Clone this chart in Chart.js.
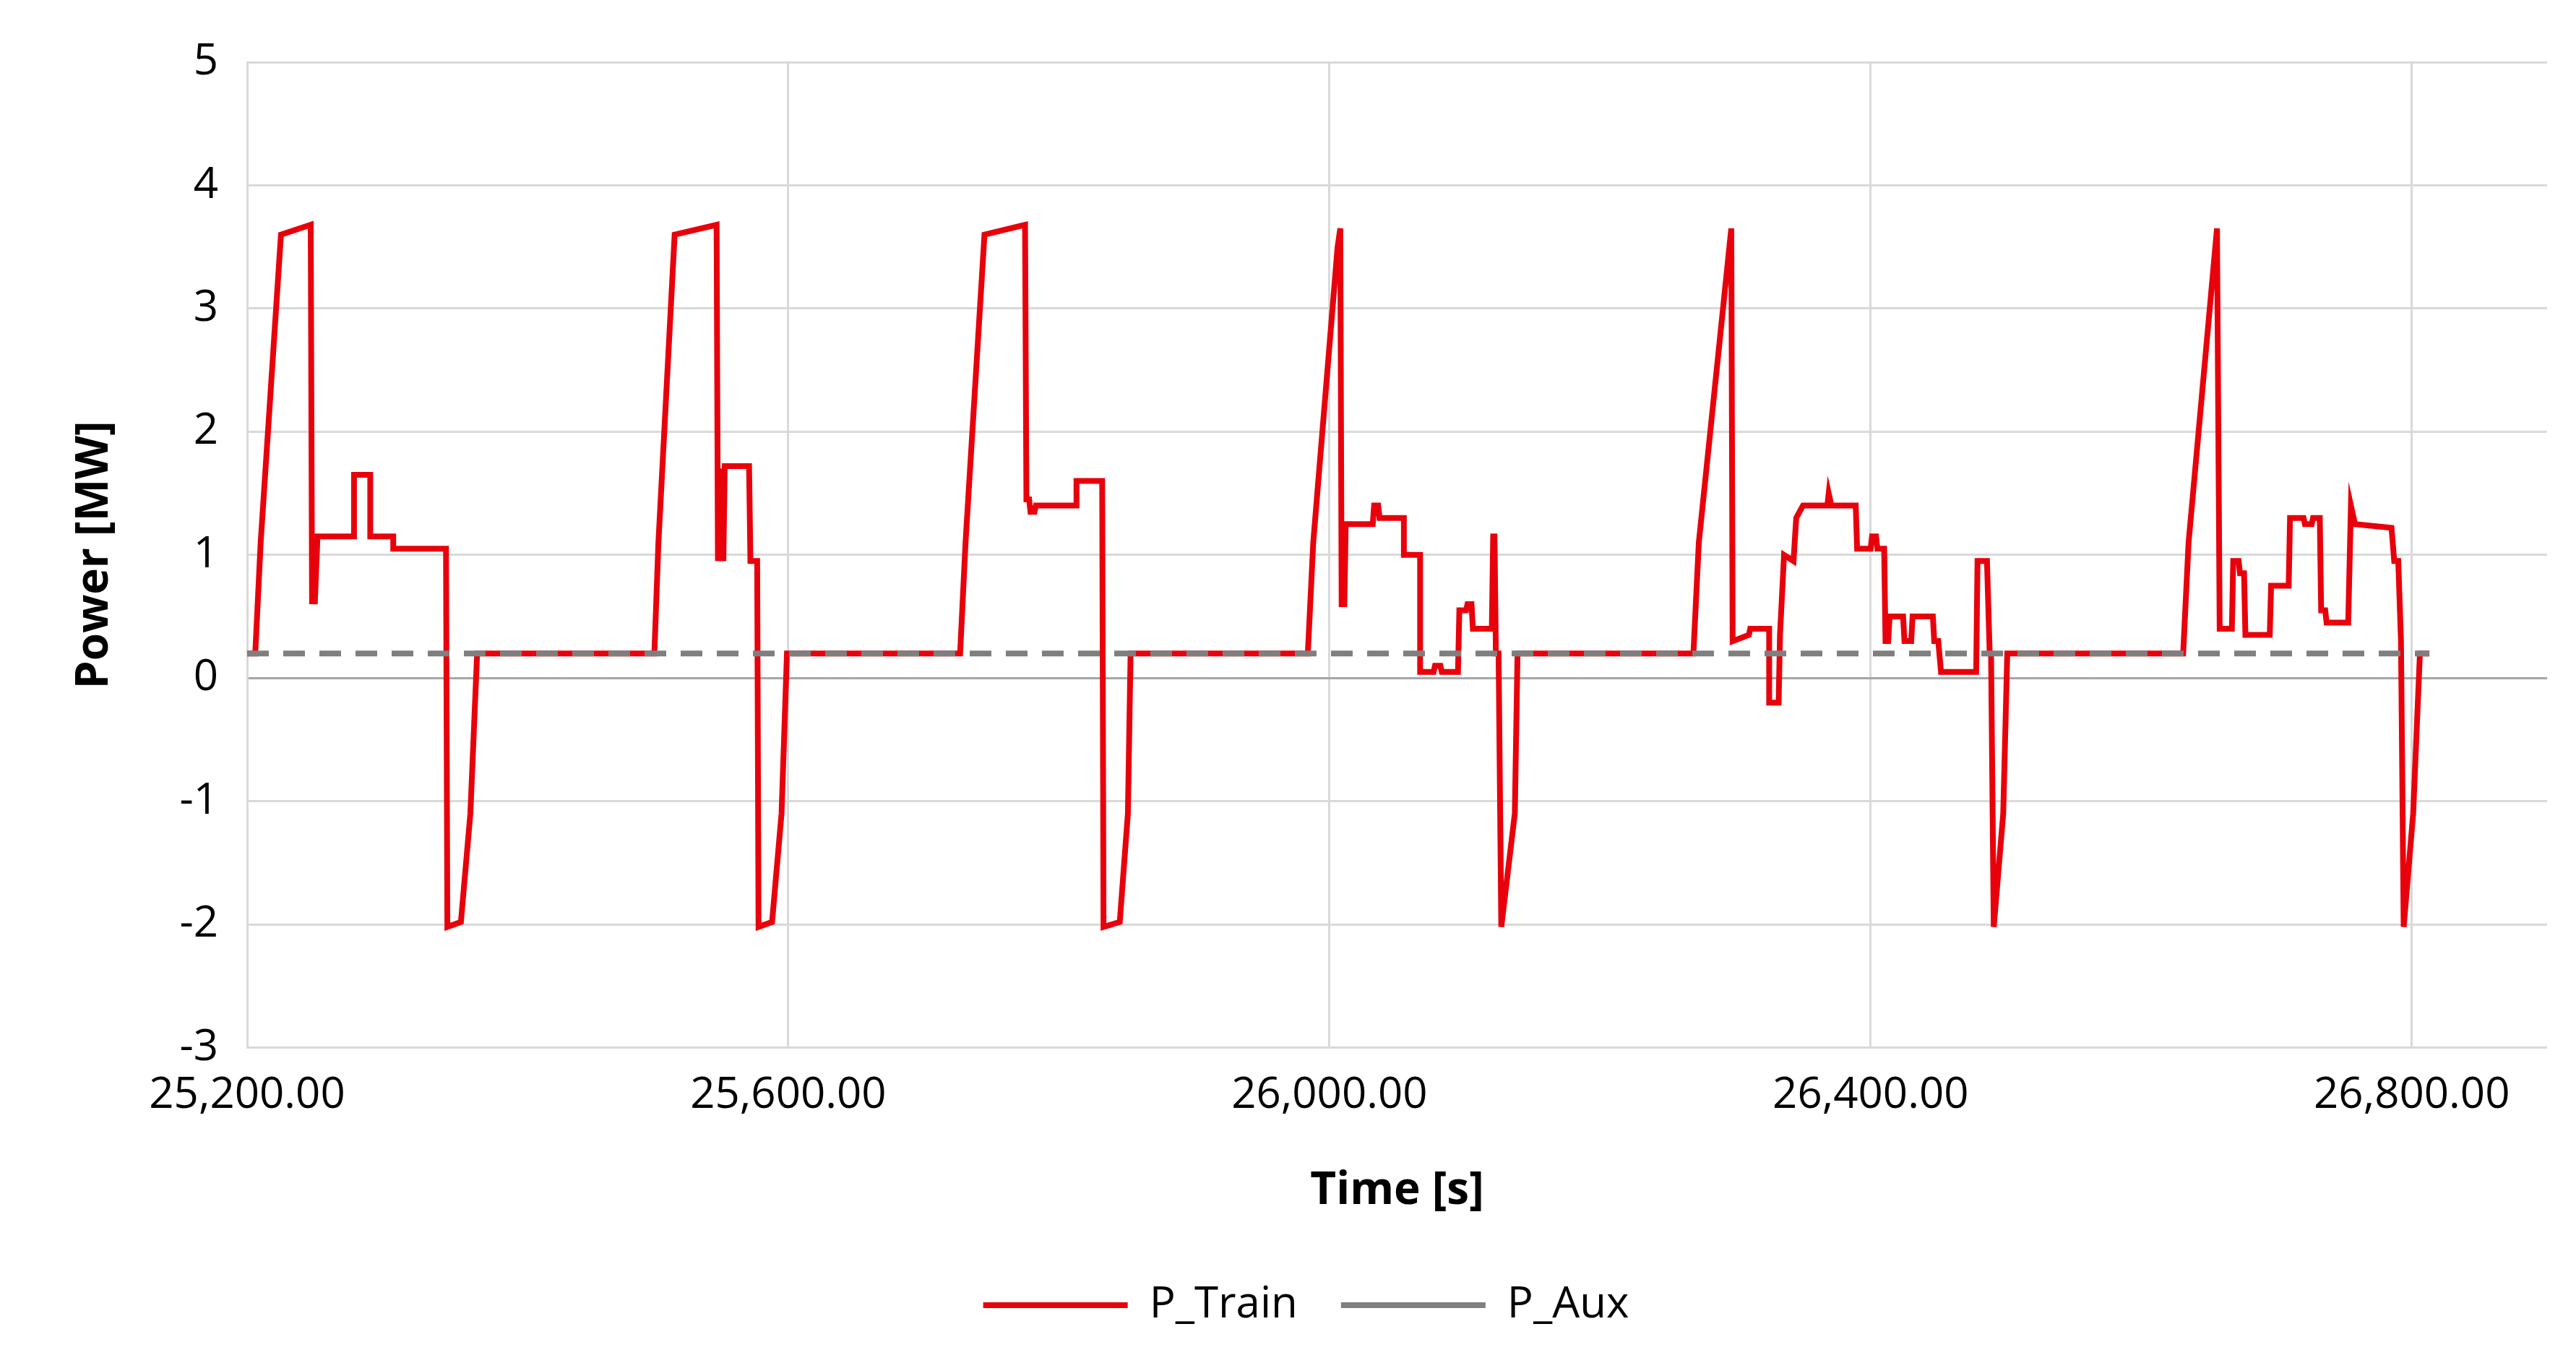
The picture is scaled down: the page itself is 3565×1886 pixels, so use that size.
<!DOCTYPE html>
<html>
<head>
<meta charset="utf-8">
<script src="https://cdn.jsdelivr.net/npm/chart.js@4/dist/chart.umd.min.js"></script>
<style>
  html, body { margin: 0; padding: 0; background: #fff; }
  #wrap { width: 3565px; height: 1886px; }
</style>
</head>
<body>
<div id="wrap"><canvas id="chart"></canvas></div>
<script>
// Train power trace, time [s] and power [MW]
var trainTime = [
  25200, 25206, 25210, 25225, 25247, 25248, 25249, 25250, 25252, 25279, 25279, 25291, 25291, 25308, 25308, 25347, 25348, 25358, 25365, 25370,
  25501, 25504, 25516, 25547, 25548, 25550, 25552, 25553, 25571, 25572, 25577, 25578, 25588, 25595, 25599,
  25727, 25731, 25745, 25775, 25776, 25778, 25779, 25782, 25783, 25813, 25813, 25832, 25833, 25845, 25851, 25853,
  25984, 25988, 26006, 26008, 26009, 26011, 26012, 26032, 26033, 26036, 26037, 26055, 26055, 26067, 26067, 26077, 26078, 26082, 26083, 26095, 26096, 26101, 26102, 26105, 26106, 26120, 26121, 26122, 26123, 26125, 26127, 26137, 26139,
  26269, 26273, 26297, 26298, 26310, 26311, 26325, 26325, 26332, 26333, 26336, 26343, 26345, 26350, 26368, 26369, 26371, 26389, 26390, 26400, 26401, 26404, 26405, 26410, 26411, 26413, 26414, 26424, 26425, 26430, 26431, 26446, 26447, 26450, 26452, 26478, 26479, 26486, 26488, 26489, 26491, 26498, 26501,
  26631, 26635, 26656, 26658, 26667, 26668, 26672, 26673, 26676, 26677, 26695, 26696, 26709, 26710, 26720, 26721, 26726, 26727, 26732, 26733, 26736, 26737, 26753, 26755, 26758, 26785, 26787, 26790, 26792, 26794, 26801, 26806, 26813
];
var trainPower = [
  0.2, 0.2, 1.1, 3.6, 3.68, 0.6, 1.15, 0.6, 1.15, 1.15, 1.65, 1.65, 1.15, 1.15, 1.05, 1.05, -2.02, -1.98, -1.1, 0.2,
  0.2, 1.1, 3.6, 3.68, 0.95, 1.7, 0.95, 1.72, 1.72, 0.95, 0.95, -2.02, -1.98, -1.1, 0.2,
  0.2, 1.1, 3.6, 3.68, 1.45, 1.45, 1.35, 1.35, 1.4, 1.4, 1.6, 1.6, -2.02, -1.98, -1.1, 0.2,
  0.2, 1.1, 3.5, 3.65, 0.6, 0.6, 1.25, 1.25, 1.4, 1.4, 1.3, 1.3, 1.0, 1.0, 0.05, 0.05, 0.1, 0.1, 0.05, 0.05, 0.55, 0.55, 0.6, 0.6, 0.4, 0.4, 1.15, 1.15, 0.2, 0.2, -2.02, -1.1, 0.2,
  0.2, 1.1, 3.65, 0.3, 0.35, 0.4, 0.4, -0.2, -0.2, 0.35, 1.0, 0.95, 1.3, 1.4, 1.4, 1.5, 1.4, 1.4, 1.05, 1.05, 1.15, 1.15, 1.05, 1.05, 0.3, 0.3, 0.5, 0.5, 0.3, 0.3, 0.5, 0.5, 0.3, 0.3, 0.05, 0.05, 0.95, 0.95, 0.2, 0.2, -2.02, -1.1, 0.2,
  0.2, 1.1, 3.65, 0.4, 0.4, 0.95, 0.95, 0.85, 0.85, 0.35, 0.35, 0.75, 0.75, 1.3, 1.3, 1.25, 1.25, 1.3, 1.3, 0.55, 0.55, 0.45, 0.45, 1.4, 1.25, 1.22, 0.95, 0.95, 0.3, -2.02, -1.1, 0.2, 0.2
];
// Auxiliary power, constant
var auxTime = [25200, 26813];
var auxPower = [0.2, 0.2];
var xTicks = [25200, 25600, 26000, 26400, 26800];
var yTicks = [-3, -2, -1, 0, 1, 2, 3, 4, 5];

function toPoints(xs, ys) {
  return xs.map(function (x, i) { return { x: x, y: ys[i] }; });
}

Chart.defaults.font.family = '"Open Sans", "Liberation Sans", sans-serif';
Chart.defaults.color = '#000';

new Chart(document.getElementById('chart'), {
  type: 'line',
  data: {
    datasets: [{
      label: 'P_Aux',
      data: toPoints(auxTime, auxPower),
      borderColor: '#7f7f7f',
      backgroundColor: '#7f7f7f',
      borderWidth: 8,
      borderDash: [30, 20],
      pointRadius: 0
    }, {
      label: 'P_Train',
      data: toPoints(trainTime, trainPower),
      borderColor: '#e8000b',
      backgroundColor: '#e8000b',
      borderWidth: 8,
      pointRadius: 0,
      tension: 0
    }]
  },
  options: {
    responsive: true,
    maintainAspectRatio: false,
    animation: false,
    layout: { padding: { left: 90, right: 40, top: 86, bottom: 40 } },
    plugins: {
      tooltip: { enabled: false },
      legend: {
        position: 'bottom',
        labels: {
          usePointStyle: true,
          pointStyle: 'line',
          pointStyleWidth: 200,
          font: { size: 60 },
          padding: 60,
          sort: function (a, b) { return b.datasetIndex - a.datasetIndex; }
        }
      }
    },
    scales: {
      x: {
        type: 'linear',
        min: 25200,
        max: 26900,
        afterBuildTicks: function (axis) {
          axis.ticks = xTicks.map(function (v) { return { value: v }; });
        },
        ticks: {
          autoSkip: false,
          maxRotation: 0,
          font: { size: 60 },
          padding: 30,
          callback: function (v) {
            return v.toLocaleString('en-US', { minimumFractionDigits: 2, maximumFractionDigits: 2 });
          }
        },
        grid: { color: '#d9d9d9', lineWidth: 3, drawTicks: false },
        border: { display: false },
        title: { display: true, text: 'Time [s]', font: { size: 62, weight: 'bold' }, padding: { top: 30, bottom: 30 } }
      },
      y: {
        min: -3,
        max: 5,
        afterBuildTicks: function (axis) {
          axis.ticks = yTicks.map(function (v) { return { value: v }; });
        },
        ticks: { font: { size: 60 }, padding: 40 },
        grid: {
          color: function (c) { return c.tick && c.tick.value === 0 ? '#a6a6a6' : '#d9d9d9'; },
          lineWidth: 3,
          drawTicks: false
        },
        border: { color: '#d9d9d9', width: 3 },
        title: { display: true, text: 'Power [MW]', font: { size: 62, weight: 'bold' }, padding: { bottom: 40 } }
      }
    }
  }
});
</script>
</body>
</html>
